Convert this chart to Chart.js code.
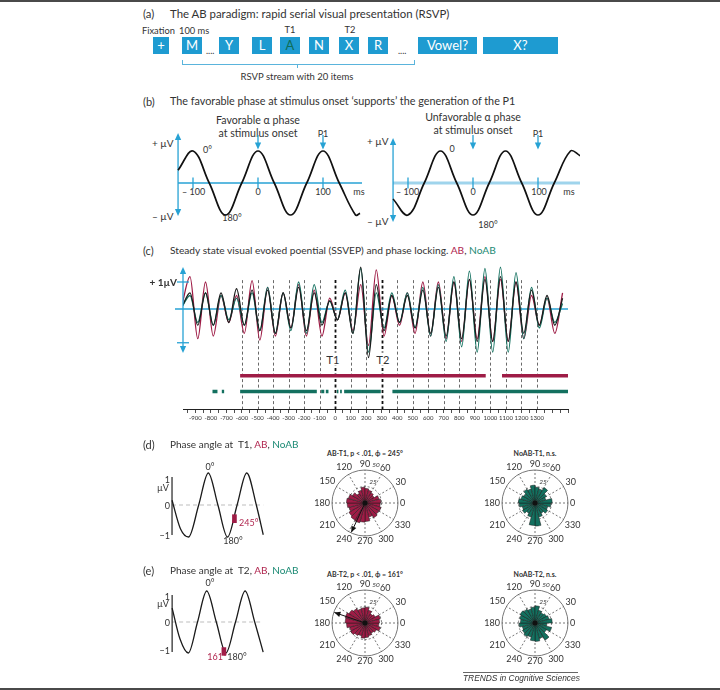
<!DOCTYPE html>
<html>
<head>
<meta charset="utf-8">
<title>AB paradigm, SSVEP and phase angles</title>
<script src="https://cdn.jsdelivr.net/npm/chart.js@4.4.1/dist/chart.umd.min.js"></script>
<style>
  body { margin: 0; background: #fff; }
  #fig { position: relative; width: 720px; height: 690px; overflow: hidden; font-family: Lato, "Open Sans", sans-serif; color: #333; }
  #fig .t { position: absolute; white-space: nowrap; line-height: 1; transform: translateY(-50%); }
  #fig .t.c { transform: translate(-50%, -50%); }
  #fig .t.r { transform: translate(-100%, -50%); }
  #fig .box { position: absolute; top: 37px; height: 17px; background: #1e9bd1; color: #fff; font-size: 13px; line-height: 17px; text-align: center; }
  #fig .ln { position: absolute; }
  #fig canvas { position: absolute; }
  #fig .bg { background: #fff; padding: 1px 0; }
</style>
</head>
<body>
<div id="fig"></div>
<script>
// ---- data ----

// (a) RSVP stream
var rsvpItems = ['+', 'M', 'Y', 'L', 'A', 'N', 'X', 'R', 'Vowel?', 'X?'];

// (b) schematic alpha waves (ms, µV)
var bTicks = [-100, 0, 100];
var onsetMarks = [0, 100]; // stimulus onset, P1
var favTime = [-123, -100, -75, -50, -25, 0, 25, 50, 75, 100, 125, 150, 157];
var favValue = [0.4, 1, 0, -1, 0, 1, 0, -1, 0, 1, 0, -1, -0.95];
var unfavTime = [-123, -100, -75, -50, -25, 0, 25, 50, 75, 100, 125, 150, 165];
var unfavValue = [-0.5, -1, 0, 1, 0, -1, 0, 1, 0, -1, 0, 1, 0.85];

// (c) SSVEP (ms, µV)
var ssvepTime = [-985, -935, -885, -835, -785, -735, -685, -635, -585, -535, -485, -435, -385, -335, -285, -235, -185, -135, -85, -35,
  15, 65, 115, 165, 215, 265, 315, 365, 415, 465, 515, 565, 615, 665, 715, 765, 815, 865, 915, 965,
  1015, 1065, 1115, 1165, 1215, 1265, 1315, 1365, 1415, 1465];
var ssvepAB = [0.2, 1.2, -1.1, 1.0, -1.0, 0.5, -0.5, 0.5, -0.9, 1.05, -1.15, 0.8, -1.0, 0.6, -0.7, 0.9, -1.0, 0.7, -1.0, 0.4,
  -0.4, 0.6, -0.8, 0.9, -1.35, 1.45, -1.0, 0.5, -0.6, 0.6, -0.9, 1.0, -1.0, 1.0, -1.1, 1.0, -1.2, 1.1, -1.1, 1.2,
  -1.2, 1.1, -1.2, 1.0, -1.1, 0.5, -0.6, 0.4, -0.9, 0.6];
var ssvepNoAB = [0.1, 0.5, -0.5, 0.6, -0.6, 0.5, -0.4, 0.4, -0.6, 0.6, -0.8, 0.8, -0.9, 0.6, -0.8, 1.0, -0.9, 0.9, -0.5, 0.3,
  -0.4, 0.7, -0.9, 1.5, -1.6, 0.6, -0.7, 0.6, -0.5, 0.6, -0.7, 0.8, -1.0, 0.9, -1.2, 1.2, -1.4, 1.4, -1.6, 1.5,
  -1.6, 1.55, -1.6, 1.35, -1.1, 0.8, -0.7, 0.4, -0.5, 0.2];
var ssvepAll = [0.1, 0.6, -0.6, 0.6, -0.6, 0.6, -0.5, 0.75, -0.6, 0.7, -0.8, 0.7, -0.9, 0.6, -0.7, 0.8, -0.8, 0.6, -0.6, 0.3,
  -0.4, 0.6, -0.9, 1.55, -1.8, 0.9, -0.8, 0.5, -0.5, 0.5, -0.7, 0.7, -0.9, 0.8, -1.0, 1.0, -1.1, 1.1, -1.2, 1.1,
  -1.2, 1.2, -1.2, 1.0, -0.9, 0.7, -0.6, 0.5, -0.6, 0.4];
var stimOnsets = [-600, -500, -400, -300, -200, -100, 0, 100, 200, 300, 400, 500, 600, 700, 800, 900, 1000, 1100, 1200, 1300];
var targetOnsets = [0, 300];
var lockAB = [[-612, 970], [1075, 1500]];
var lockNoAB = [[-790, -758], [-730, -715], [-612, -118], [-90, -70], [-60, -43], [11, 21], [32, 43], [58, 294], [369, 1500]];
var xTickLabels = [-900, -800, -700, -600, -500, -400, -300, -200, -100, 0, 100, 200, 300, 400, 500, 600, 700, 800, 900, 1000, 1100, 1200, 1300];

// (d), (e) phase of the alpha wave (degrees, µV)
var phaseDegT1 = [-340, -260, -185, -90, 0, 90, 180, 270, 360, 450, 515];
var phaseValT1 = [0.15, -0.75, -1, 0, 1, 0, -1, 0, 1, 0, -0.93];
var phaseDegT2 = [-324, -250, -172, -86, 0, 90, 180, 270, 360, 450, 529];
var phaseValT2 = [0.45, -0.55, -1, 0, 1, 0, -1, 0, 1, 0, -0.97];
var phiAB = [245, 161];

// rose plots: bins start at these angles (deg), counts per bin
var roseBinStart = [0, 15, 30, 45, 60, 75, 90, 105, 120, 135, 150, 165, 180, 195, 210, 225, 240, 255, 270, 285, 300, 315, 330, 345];
var roseAngles = [0, 30, 60, 90, 120, 150, 180, 210, 240, 270, 300, 330];
var roseAB_T1 = [24, 22, 16, 18, 20, 22, 24, 20, 17, 22, 26, 28, 27, 25, 28, 30, 31, 29, 28, 22, 26, 24, 25, 23];
var roseNoAB_T1 = [26, 17, 20, 27, 22, 24, 27, 22, 24, 20, 22, 25, 24, 20, 22, 18, 22, 34, 35, 22, 18, 22, 20, 24];
var roseAB_T2 = [22, 24, 18, 16, 20, 24, 23, 22, 25, 28, 31, 30, 28, 24, 25, 22, 20, 23, 22, 20, 18, 20, 24, 21];
var roseNoAB_T2 = [26, 22, 20, 18, 20, 26, 24, 22, 24, 26, 24, 22, 24, 20, 22, 24, 22, 27, 28, 24, 30, 20, 26, 18];

// ---- helpers ----
var CRIMSON = '#9e1c46', TEAL = '#13705f', CYAN = '#27a2d4';
var TXT_RED = '#b0264f', TXT_TEAL = '#1b8a74';
Chart.defaults.font.family = 'Lato';
var fig = document.getElementById('fig');

function txt(x, y, html, o) {
  o = o || {};
  var d = document.createElement('div');
  d.className = 't' + (o.align === 'c' ? ' c' : o.align === 'r' ? ' r' : '') + (o.bg ? ' bg' : '');
  d.style.left = x + 'px';
  d.style.top = y + 'px';
  d.style.fontSize = (o.size || 10) + 'px';
  if (o.color) d.style.color = o.color;
  if (o.bold) d.style.fontWeight = 'bold';
  if (o.italic) d.style.fontStyle = 'italic';
  if (o.font) d.style.fontFamily = o.font;
  d.innerHTML = html;
  fig.appendChild(d);
}
function line(x, y, w, h, color) {
  var d = document.createElement('div');
  d.className = 'ln';
  d.style.cssText = 'left:' + x + 'px;top:' + y + 'px;width:' + w + 'px;height:' + h + 'px;background:' + color;
  fig.appendChild(d);
}
function canvasAt(x, y, w, h) {
  var c = document.createElement('canvas');
  c.width = w; c.height = h;
  c.style.left = x + 'px'; c.style.top = y + 'px';
  fig.appendChild(c);
  return c.getContext('2d');
}
// scale ranges so that value v0 lands on page pixel p0
function xRange(p0, v0, ppu, left, width) { return { min: v0 - (p0 - left) / ppu, max: v0 + (left + width - p0) / ppu }; }
function yRange(p0, v0, ppu, top, height) { return { min: v0 - (top + height - p0) / ppu, max: v0 + (p0 - top) / ppu }; }
function pts(xs, ys) { return xs.map(function (x, i) { return { x: x, y: ys[i] }; }); }
function segs(list, level) {
  var out = [];
  list.forEach(function (s, i) {
    if (i) out.push({ x: (list[i - 1][1] + s[0]) / 2, y: null });
    out.push({ x: s[0], y: level }, { x: s[1], y: level });
  });
  return out;
}
function arrowHead(ctx, x, y, ang, size) {
  ctx.save();
  ctx.translate(x, y); ctx.rotate(ang);
  ctx.beginPath(); ctx.moveTo(0, 0); ctx.lineTo(-size, -size * 0.45); ctx.lineTo(-size, size * 0.45); ctx.closePath();
  ctx.fill();
  ctx.restore();
}
var baseOpts = { animation: false, responsive: false, layout: { padding: 0 }, plugins: { legend: { display: false }, tooltip: { enabled: false } } };
function opts(extra) { return Object.assign({}, baseOpts, extra); }

// ---- frame ----
line(0, 0, 720, 2, '#4a4a4a');
line(0, 688, 720, 2, '#4a4a4a');

// ---- (a) ----
txt(143, 14, '(a)', { size: 11.3 });
txt(170, 14, 'The AB paradigm: rapid serial visual presentation (RSVP)', { size: 11.4 });
txt(142, 31, 'Fixation', { size: 9.3 });
txt(179, 31, '100 ms', { size: 9.3 });
txt(290, 30, 'T1', { size: 9.3, align: 'c' });
txt(350, 30, 'T2', { size: 9.3, align: 'c' });
var boxX = [153, 182, 219, 252, 280, 309, 339, 368, 418, 483];
var boxW = [16, 20, 20, 20, 20, 20, 20, 20, 59, 75];
rsvpItems.forEach(function (s, i) {
  var b = document.createElement('div');
  b.className = 'box';
  b.style.left = boxX[i] + 'px'; b.style.width = boxW[i] + 'px';
  b.textContent = s;
  if (s === 'A') b.style.color = '#0e6e58';
  fig.appendChild(b);
});
txt(206, 50, '....', { size: 9 });
txt(398, 50, '....', { size: 9 });
line(182, 64, 233, 1, '#5ab4dc');
line(182, 60, 1, 4, '#5ab4dc');
line(414, 60, 1, 4, '#5ab4dc');
line(297, 64, 1, 4, '#5ab4dc');
txt(297, 77, 'RSVP stream with 20 items', { size: 9.5, align: 'c' });

// ---- (b) ----
txt(143, 101, '(b)', { size: 11 });
txt(170, 101, 'The favorable phase at stimulus onset \u2018supports\u2019 the generation of the P1', { size: 10.8 });
txt(258, 120, 'Favorable \u03b1 phase', { size: 10.6, align: 'c' });
txt(258, 133, 'at stimulus onset', { size: 10.6, align: 'c' });
txt(473, 117, 'Unfavorable \u03b1 phase', { size: 10.6, align: 'c' });
txt(473, 130, 'at stimulus onset', { size: 10.6, align: 'c' });
txt(323, 133, 'P1', { size: 9, align: 'c' });
txt(538, 133, 'P1', { size: 9, align: 'c' });
txt(152, 143, '+ \u00b5V', { size: 10 });
txt(152, 216, '\u2013 \u00b5V', { size: 10 });
txt(367, 141, '+ \u00b5V', { size: 10 });
txt(367, 221, '\u2013 \u00b5V', { size: 10 });
txt(203, 149, '0\u00b0', { size: 9 });
txt(232, 217, '180\u00b0', { size: 9, align: 'c' });
txt(452, 148, '0', { size: 9, align: 'c' });
txt(488, 224, '180\u00b0', { size: 9, align: 'c' });
txt(182, 191, '\u2013 100', { size: 9 });
txt(258, 191, '0', { size: 9, align: 'c' });
txt(323, 191, '100', { size: 9, align: 'c' });
txt(359, 191, 'ms', { size: 9, align: 'c' });
txt(396, 191, '\u2013 100', { size: 9 });
txt(473, 191, '0', { size: 9, align: 'c' });
txt(539, 191, '100', { size: 9, align: 'c' });
txt(569, 191, 'ms', { size: 9, align: 'c' });

var rb1 = xRange(258, 0, 0.65, 140, 440);
var rb2 = xRange(473, 0, 0.65, 140, 440);
var rby = yRange(183, 0, 32, 95, 135);
var bDecor = {
  id: 'bDecor',
  beforeDatasetsDraw: function (chart) {
    var ctx = chart.ctx, y = chart.scales.y;
    var sides = [
      { sc: chart.scales.x1, from: -123, to: 160, top: 1.56, bot: -1.03, light: false },
      { sc: chart.scales.x2, from: -123, to: 165, top: 1.41, bot: -1.22, light: true }
    ];
    ctx.save();
    sides.forEach(function (s) {
      var ax = s.sc.getPixelForValue(s.from), y0 = y.getPixelForValue(0);
      ctx.fillStyle = CYAN;
      // horizontal axis
      ctx.lineWidth = s.light ? 3 : 1.3;
      ctx.strokeStyle = s.light ? '#9fd4ec' : CYAN;
      ctx.beginPath(); ctx.moveTo(ax, y0); ctx.lineTo(s.sc.getPixelForValue(s.to), y0); ctx.stroke();
      ctx.strokeStyle = CYAN; ctx.lineWidth = 1.3;
      // vertical axis with arrows
      var yt = y.getPixelForValue(s.top), yb = y.getPixelForValue(s.bot);
      ctx.beginPath(); ctx.moveTo(ax, yt + 4); ctx.lineTo(ax, yb - 4); ctx.stroke();
      arrowHead(ctx, ax, yt, -Math.PI / 2, 7);
      arrowHead(ctx, ax, yb, Math.PI / 2, 7);
      // ticks
      bTicks.forEach(function (t) {
        var px = s.sc.getPixelForValue(t);
        ctx.beginPath(); ctx.moveTo(px, y.getPixelForValue(0.17)); ctx.lineTo(px, y.getPixelForValue(-0.17)); ctx.stroke();
      });
      // onset / P1 arrows
      onsetMarks.forEach(function (t) {
        var px = s.sc.getPixelForValue(t);
        var ya = y.getPixelForValue(1.5), yTip = y.getPixelForValue(1.05);
        ctx.beginPath(); ctx.moveTo(px, ya); ctx.lineTo(px, yTip - 5); ctx.stroke();
        arrowHead(ctx, px, yTip, Math.PI / 2, 7);
      });
    });
    ctx.restore();
  }
};
new Chart(canvasAt(140, 95, 440, 135), {
  type: 'line',
  data: {
    datasets: [
      { data: pts(favTime, favValue), xAxisID: 'x1', borderColor: '#111', borderWidth: 1.7, pointRadius: 0, tension: 0.4 },
      { data: pts(unfavTime, unfavValue), xAxisID: 'x2', borderColor: '#111', borderWidth: 1.7, pointRadius: 0, tension: 0.4 }
    ]
  },
  options: opts({
    scales: {
      x1: { type: 'linear', display: false, offset: false, min: rb1.min, max: rb1.max },
      x2: { type: 'linear', display: false, offset: false, min: rb2.min, max: rb2.max },
      y: { type: 'linear', display: false, min: rby.min, max: rby.max }
    }
  }),
  plugins: [bDecor]
});

// ---- (c) ----
txt(143, 250, '(c)', { size: 11 });
txt(170, 250, 'Steady state visual evoked poential (SSVEP) and phase locking. <span style="color:' + TXT_RED + '">AB</span>, <span style="color:' + TXT_TEAL + '">NoAB</span>', { size: 10.2 });

var rcy = yRange(309, 0, 27, 262, 147);
var cDecor = {
  id: 'cDecor',
  beforeDatasetsDraw: function (chart) {
    var ctx = chart.ctx, x = chart.scales.x, y = chart.scales.y, a = chart.chartArea;
    ctx.save();
    stimOnsets.forEach(function (t) {
      var big = targetOnsets.indexOf(t) >= 0;
      ctx.strokeStyle = big ? '#111' : '#444';
      ctx.lineWidth = big ? 1.8 : 0.8;
      ctx.setLineDash([3, 2.5]);
      var px = Math.round(x.getPixelForValue(t)) + 0.5;
      ctx.beginPath(); ctx.moveTo(px, y.getPixelForValue(1.07)); ctx.lineTo(px, a.bottom); ctx.stroke();
    });
    ctx.setLineDash([]);
    ctx.strokeStyle = CYAN; ctx.lineWidth = 1.4;
    var y0 = y.getPixelForValue(0);
    ctx.beginPath(); ctx.moveTo(a.left - 8, y0); ctx.lineTo(a.right, y0); ctx.stroke();
    ctx.restore();
  },
  afterDatasetsDraw: function (chart) {
    var ctx = chart.ctx, y = chart.scales.y, px = chart.chartArea.left;
    var top = y.getPixelForValue(1.56), bot = y.getPixelForValue(-1.63);
    ctx.save();
    ctx.strokeStyle = CYAN; ctx.fillStyle = CYAN; ctx.lineWidth = 1.3;
    ctx.beginPath(); ctx.moveTo(px, top + 4); ctx.lineTo(px, bot - 4); ctx.stroke();
    arrowHead(ctx, px, top, -Math.PI / 2, 7);
    arrowHead(ctx, px, bot, Math.PI / 2, 7);
    [1, -1.25].forEach(function (v) {
      var py = y.getPixelForValue(v);
      ctx.beginPath(); ctx.moveTo(px - 6, py); ctx.lineTo(px + 6, py); ctx.stroke();
    });
    ctx.restore();
  }
};
function wave(data, color) {
  return { data: data, borderColor: color, borderWidth: 1.3, pointRadius: 0, cubicInterpolationMode: 'monotone' };
}
new Chart(canvasAt(140, 255, 440, 170), {
  type: 'line',
  data: {
    datasets: [
      wave(pts(ssvepTime, ssvepAll), '#1c1c1c'),
      wave(pts(ssvepTime, ssvepNoAB), TEAL),
      wave(pts(ssvepTime, ssvepAB), CRIMSON),
      { data: segs(lockAB, -2.47), borderColor: CRIMSON, borderWidth: 3.5, pointRadius: 0, spanGaps: false, borderCapStyle: 'butt' },
      { data: segs(lockNoAB, -3.06), borderColor: TEAL, borderWidth: 3.5, pointRadius: 0, spanGaps: false, borderCapStyle: 'butt' }
    ]
  },
  options: opts({
    layout: { padding: { left: 43, right: 12, top: 7, bottom: 0 } },
    scales: {
      x: {
        type: 'linear', min: -980, max: 1500, offset: false,
        afterFit: function (s) { s.height = 16; },
        grid: { display: true, drawOnChartArea: false, drawTicks: true, tickLength: 4, tickColor: '#222', tickWidth: 0.8 },
        border: { display: true, color: '#222', width: 1 },
        ticks: {
          stepSize: 50, includeBounds: false, autoSkip: false, maxRotation: 0, minRotation: 0, padding: 1.5,
          font: { size: 6 }, color: '#333',
          callback: function (v) { return xTickLabels.indexOf(v) >= 0 ? String(v) : ''; }
        }
      },
      y: { type: 'linear', display: false, min: rcy.min, max: rcy.max }
    }
  }),
  plugins: [cDecor]
});
txt(177, 282, '+ 1\u00b5V', { size: 10, bold: true, align: 'r' });
txt(333, 359, 'T1', { size: 11, align: 'c', bg: true });
txt(383, 359, 'T2', { size: 11, align: 'c', bg: true });

// ---- (d), (e) phase schematics ----
function phasePanel(top, h, x0px, y0px, ppuY, degs, vals, phi, axisDeg, endDeg, axTop, axBot) {
  var rx = xRange(x0px, 0, 0.1067, 140, 150);
  var ry = yRange(y0px, 0, ppuY, top, h);
  var decor = {
    id: 'phaseDecor',
    beforeDatasetsDraw: function (chart) {
      var ctx = chart.ctx, x = chart.scales.x, y = chart.scales.y;
      var xa = x.getPixelForValue(axisDeg), y0 = y.getPixelForValue(0);
      ctx.save();
      ctx.strokeStyle = '#bdbdbd'; ctx.lineWidth = 1; ctx.setLineDash([4, 3]);
      ctx.beginPath(); ctx.moveTo(xa, y0); ctx.lineTo(x.getPixelForValue(endDeg), y0); ctx.stroke();
      ctx.setLineDash([]); ctx.strokeStyle = '#222'; ctx.lineWidth = 1.2;
      ctx.beginPath(); ctx.moveTo(xa, y.getPixelForValue(axTop)); ctx.lineTo(xa, y.getPixelForValue(axBot)); ctx.stroke();
      ctx.restore();
    }
  };
  var c = Math.cos(phi * Math.PI / 180);
  new Chart(canvasAt(140, top, 150, h), {
    type: 'line',
    data: {
      datasets: [
        { type: 'bar', data: [{ x: phi, y: [c - 0.13, c + 0.12] }], backgroundColor: CRIMSON, barThickness: 4 },
        { data: pts(degs, vals), borderColor: '#1a1a1a', borderWidth: 1.3, pointRadius: 0, cubicInterpolationMode: 'monotone' }
      ]
    },
    options: opts({
      scales: {
        x: { type: 'linear', display: false, offset: false, min: rx.min, max: rx.max },
        y: { type: 'linear', display: false, min: ry.min, max: ry.max }
      }
    }),
    plugins: [decor]
  });
}

var redNo = ', <span style="color:' + TXT_RED + '">AB</span>, <span style="color:' + TXT_TEAL + '">NoAB</span>';
txt(143, 444, '(d)', { size: 11 });
txt(170, 444, 'Phase angle at&nbsp; T1' + redNo, { size: 10 });
phasePanel(455, 95, 208.3, 505, 32, phaseDegT1, phaseValT1, phiAB[0], -340, 515, 0.875, -0.94);
txt(210, 466, '0\u00b0', { size: 9, align: 'c' });
txt(233, 540, '180\u00b0', { size: 9, align: 'c' });
txt(239, 522, '245\u00b0', { size: 9, color: TXT_RED });
txt(157, 487, '\u00b5V', { size: 9 });
txt(170, 479, '1', { size: 9, align: 'r' });
txt(170, 505, '0', { size: 9, align: 'r' });
txt(170, 535, '\u22121', { size: 9, align: 'r' });

txt(143, 570, '(e)', { size: 11 });
txt(170, 570, 'Phase angle at&nbsp; T2' + redNo, { size: 10 });
phasePanel(576, 88, 206.7, 622, 31, phaseDegT2, phaseValT2, phiAB[1], -324, 529, 0.87, -0.97);
txt(210, 582, '0\u00b0', { size: 9, align: 'c' });
txt(237, 656, '180\u00b0', { size: 9, align: 'c' });
txt(217, 656, '161\u00b0', { size: 9, align: 'c', color: TXT_RED });
txt(157, 603, '\u00b5V', { size: 9 });
txt(170, 596, '1', { size: 9, align: 'r' });
txt(170, 622, '0', { size: 9, align: 'r' });
txt(170, 650, '\u22121', { size: 9, align: 'r' });

// ---- rose plots ----
function roseDecor(phi) {
  return {
    id: 'roseDecor',
    beforeDatasetsDraw: function (chart) {
      var s = chart.scales.r, ctx = chart.ctx;
      var R = s.getDistanceFromCenterForValue(50), r25 = s.getDistanceFromCenterForValue(25);
      ctx.save();
      ctx.strokeStyle = '#555'; ctx.lineWidth = 0.8; ctx.setLineDash([2, 2]);
      roseAngles.forEach(function (a) {
        var t = a * Math.PI / 180;
        ctx.beginPath(); ctx.moveTo(s.xCenter, s.yCenter);
        ctx.lineTo(s.xCenter + R * Math.cos(t), s.yCenter - R * Math.sin(t)); ctx.stroke();
      });
      ctx.beginPath(); ctx.arc(s.xCenter, s.yCenter, r25, 0, 2 * Math.PI); ctx.stroke();
      ctx.setLineDash([]);
      ctx.beginPath(); ctx.arc(s.xCenter, s.yCenter, R, 0, 2 * Math.PI); ctx.stroke();
      ctx.restore();
    },
    afterDatasetsDraw: function (chart) {
      var s = chart.scales.r, ctx = chart.ctx, cx = s.xCenter, cy = s.yCenter;
      var R = s.getDistanceFromCenterForValue(50);
      ctx.save();
      ctx.fillStyle = '#111';
      ctx.beginPath(); ctx.arc(cx, cy, 2.5, 0, 2 * Math.PI); ctx.fill();
      if (phi !== null) {
        var t = phi * Math.PI / 180, L = s.getDistanceFromCenterForValue(49);
        var tx = cx + L * Math.cos(t), ty = cy - L * Math.sin(t);
        ctx.strokeStyle = '#111'; ctx.lineWidth = 1;
        ctx.beginPath(); ctx.moveTo(cx, cy); ctx.lineTo(tx, ty); ctx.stroke();
        arrowHead(ctx, tx, ty, -t, 6);
      }
      ctx.fillStyle = '#333'; ctx.font = '9px Lato'; ctx.textAlign = 'center'; ctx.textBaseline = 'middle';
      roseAngles.forEach(function (a) {
        var t = a * Math.PI / 180, lab = String(a);
        var w = ctx.measureText(lab).width;
        var off = R + 2 + (w / 2) * Math.abs(Math.cos(t)) + 3.5 * Math.abs(Math.sin(t));
        ctx.fillText(lab, cx + off * Math.cos(t), cy - off * Math.sin(t));
      });
      ctx.font = 'italic 6.5px Lato';
      ctx.fillText('50', cx + 11, cy - 38);
      ctx.fillText('25', cx + 8, cy - 21);
      ctx.restore();
    }
  };
}
function rose(cx, cy, values, fill, phi) {
  new Chart(canvasAt(cx - 55, cy - 55, 110, 110), {
    type: 'polarArea',
    data: {
      labels: roseBinStart.slice().reverse().map(String),
      datasets: [{ data: values.slice().reverse(), backgroundColor: fill, borderColor: '#1a1a1a', borderWidth: 0.5 }]
    },
    options: opts({
      layout: { padding: 22 },
      scales: {
        r: {
          min: 0, max: 50, startAngle: 90,
          ticks: { display: false }, grid: { display: false },
          angleLines: { display: false }, pointLabels: { display: false }
        }
      }
    }),
    plugins: [roseDecor(phi)]
  });
}
txt(365, 453, 'AB-T1, p &lt; .01, \u03d5 = 245\u00b0', { size: 7, bold: true, align: 'c' });
txt(535, 453, 'NoAB-T1, n.s.', { size: 7, bold: true, align: 'c' });
txt(365, 574, 'AB-T2, p &lt; .01, \u03d5 = 161\u00b0', { size: 7, bold: true, align: 'c' });
txt(535, 574, 'NoAB-T2, n.s.', { size: 7, bold: true, align: 'c' });
rose(365, 503, roseAB_T1, CRIMSON, phiAB[0]);
rose(535, 503, roseNoAB_T1, TEAL, null);
rose(365, 623, roseAB_T2, CRIMSON, phiAB[1]);
rose(535, 623, roseNoAB_T2, TEAL, null);

// ---- footer ----
line(463, 672, 115, 1, '#666');
txt(463, 678, 'TRENDS in Cognitive Sciences', { size: 8.4, italic: true, font: '"Liberation Sans", Arial, sans-serif' });
</script>
</body>
</html>
